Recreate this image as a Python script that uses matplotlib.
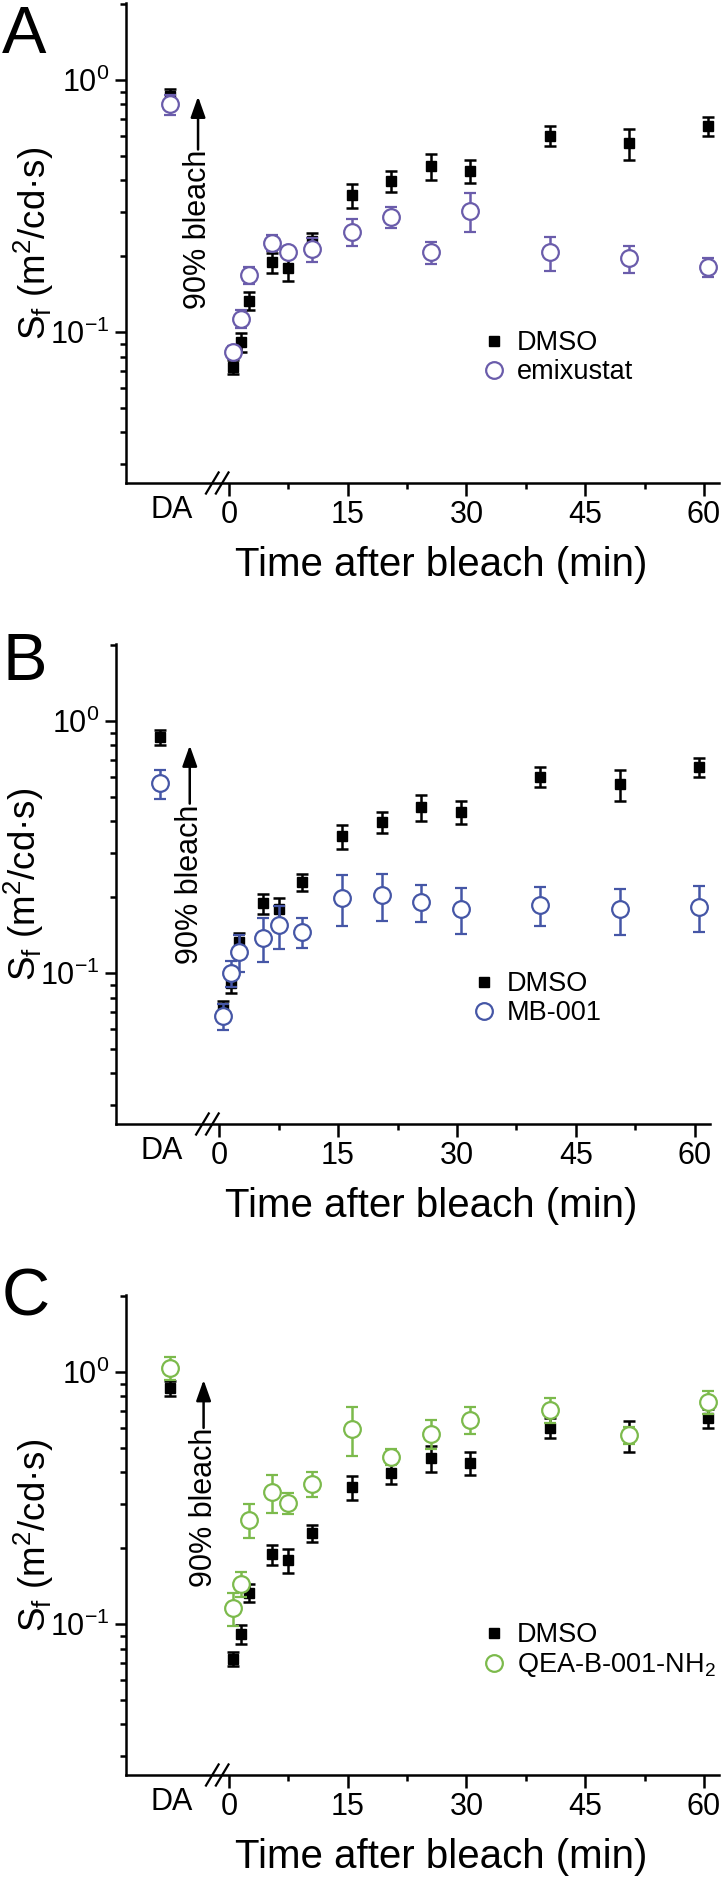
import matplotlib
matplotlib.use("Agg")
import matplotlib.pyplot as plt
from matplotlib.lines import Line2D
from matplotlib.ticker import FixedLocator, NullFormatter, LogLocator, LogFormatterSciNotation
from matplotlib.transforms import blended_transform_factory

plt.rcParams['font.family'] = ['Liberation Sans', 'DejaVu Sans']
plt.rcParams['mathtext.fontset'] = 'custom'
plt.rcParams['mathtext.rm'] = 'Liberation Sans'
plt.rcParams['mathtext.it'] = 'Liberation Sans:italic'
plt.rcParams['mathtext.bf'] = 'Liberation Sans:bold'
plt.rcParams['axes.unicode_minus'] = False

# ---------------- data ----------------
times = [0.5, 1.5, 2.5, 5.5, 7.5, 10.5, 15.5, 20.5, 25.5, 30.5, 40.5, 50.5, 60.5]
da_label = "DA"
da_x = -7.5

dmso_da, dmso_da_err = 0.86, 0.06
dmso = [0.073, 0.091, 0.133, 0.189, 0.179, 0.230, 0.349, 0.397, 0.455, 0.436, 0.601, 0.560, 0.657]
dmso_err = [0.0045, 0.008, 0.011, 0.017, 0.019, 0.018, 0.038, 0.038, 0.053, 0.047, 0.055, 0.079, 0.055]

emix_da, emix_da_err = 0.80, 0.075
emix = [0.083, 0.113, 0.168, 0.226, 0.208, 0.213, 0.250, 0.286, 0.207, 0.302, 0.207, 0.196, 0.181]
emix_err = [0.005, 0.009, 0.013, 0.017, 0.010, 0.023, 0.030, 0.027, 0.021, 0.053, 0.032, 0.024, 0.015]

mb_da, mb_da_err = 0.567, 0.075
mb = [0.0673, 0.100, 0.121, 0.138, 0.155, 0.146, 0.199, 0.204, 0.192, 0.180, 0.187, 0.179, 0.183]
mb_err = [0.008, 0.012, 0.020, 0.027, 0.030, 0.020, 0.045, 0.043, 0.032, 0.037, 0.033, 0.037, 0.038]

qea_da, qea_da_err = 1.038, 0.11
qea = [0.1156, 0.1445, 0.259, 0.334, 0.302, 0.360, 0.594, 0.461, 0.568, 0.645, 0.708, 0.562, 0.762]
qea_err = [0.017, 0.016, 0.040, 0.058, 0.028, 0.040, 0.130, 0.035, 0.075, 0.080, 0.080, 0.045, 0.080]

x_major = [0, 15, 30, 45, 60]
x_minor = [7.5, 22.5, 37.5, 52.5]

panels = [
    dict(letter="A", name="emixustat", da=emix_da, da_err=emix_da_err, vals=emix, errs=emix_err,
         color="#6a5cab", rect=(126, 3, 719, 483), letter_top=5,
         arrow=(-3.9, 0.86, 0.53, 0.255)),
    dict(letter="B", name="MB-001", da=mb_da, da_err=mb_da_err, vals=mb, errs=mb_err,
         color="#4556a6", rect=(116, 644, 710, 1124), letter_top=632,
         arrow=(-3.7, 0.80, 0.47, 0.225)),
    dict(letter="C", name="QEA-B-001-NH$_2$", da=qea_da, da_err=qea_da_err, vals=qea, errs=qea_err,
         color="#7cba4c", rect=(126, 1295, 719, 1775), letter_top=1268,
         arrow=(-3.2, 0.93, 0.60, 0.29)),
]

W, H = 723, 1877
fig = plt.figure(figsize=(W / 100, H / 100), dpi=100)

for p in panels:
    l, t, r, b = p["rect"]
    ax = fig.add_axes([l / W, 1 - b / H, (r - l) / W, (b - t) / H])
    ax.set_yscale("log")
    ax.set_xlim(-13.0, 61.9)
    ax.set_ylim(0.0252, 2.02)

    # DMSO
    ax.errorbar([da_x] + times, [dmso_da] + dmso, yerr=[dmso_da_err] + dmso_err,
                fmt="s", color="black", ms=7.5, mfc="black", mec="black",
                elinewidth=1.8, capsize=4.2, capthick=1.8, zorder=3)
    # treatment
    ax.errorbar([da_x] + times, [p["da"]] + p["vals"], yerr=[p["da_err"]] + p["errs"],
                fmt="o", color=p["color"], ms=12, mfc="white", mec=p["color"], mew=1.6,
                elinewidth=1.8, capsize=4.2, capthick=1.8, zorder=4)

    for s in ("top", "right"):
        ax.spines[s].set_visible(False)
    for s in ("left", "bottom"):
        ax.spines[s].set_linewidth(1.8)

    ax.xaxis.set_major_locator(FixedLocator(x_major))
    ax.xaxis.set_minor_locator(FixedLocator(x_minor))
    ax.yaxis.set_major_locator(LogLocator(base=10))
    ax.yaxis.set_major_formatter(LogFormatterSciNotation())
    ax.yaxis.set_minor_locator(LogLocator(base=10, subs=[2, 3, 4, 5, 6, 7, 8, 9]))
    ax.yaxis.set_minor_formatter(NullFormatter())
    ax.tick_params(axis="both", which="major", direction="out", length=8, width=1.8, labelsize=22, pad=4)
    ax.tick_params(axis="both", which="minor", direction="out", length=4.5, width=1.8)
    ax.tick_params(axis="x", which="major", length=9, pad=3)

    # DA category label
    trans = blended_transform_factory(ax.transData, ax.transAxes)
    ax.text(da_x + 0.3, -0.0255, da_label, transform=trans, ha="center", va="top", fontsize=22)

    # axis break marks
    for bx in (-2.1, -0.85):
        ax.plot([bx - 0.8, bx + 0.8], [-0.022, 0.022], transform=trans, color="black",
                lw=1.6, clip_on=False, zorder=5)

    ax.set_xlabel("Time after bleach (min)", fontsize=29, labelpad=12)
    ax.xaxis.label.set_x(0.531)
    ax.set_ylabel(r"S$_\mathrm{f}$ (m$^2$/cd·s)", fontsize=26.5)
    ax.yaxis.set_label_coords(-0.118, 0.5)

    # bleach arrow and text
    axx, tip, tail, tc = p["arrow"]
    ax.annotate("", xy=(axx, tip), xytext=(axx, tail),
                arrowprops=dict(arrowstyle="-|>,head_length=0.9,head_width=0.32",
                                mutation_scale=14, color="black", lw=1.8, shrinkA=0, shrinkB=0))
    ax.text(axx, tc, "90% bleach", rotation=90, ha="center", va="center", fontsize=22)

    handles = [
        Line2D([], [], ls="none", marker="s", ms=7.5, mfc="black", mec="black"),
        Line2D([], [], ls="none", marker="o", ms=12, mfc="white", mec=p["color"], mew=1.6),
    ]
    ax.legend(handles, ["DMSO", p["name"]], loc="upper left", bbox_to_anchor=(0.597, 0.318),
              frameon=False, fontsize=19.5, handlelength=1.0, handletextpad=0.35,
              labelspacing=0.1, borderpad=0, borderaxespad=0)

    fig.text(2 / W, 1 - p["letter_top"] / H, p["letter"], ha="left", va="top", fontsize=48)

fig.savefig("out.png", dpi=100)
